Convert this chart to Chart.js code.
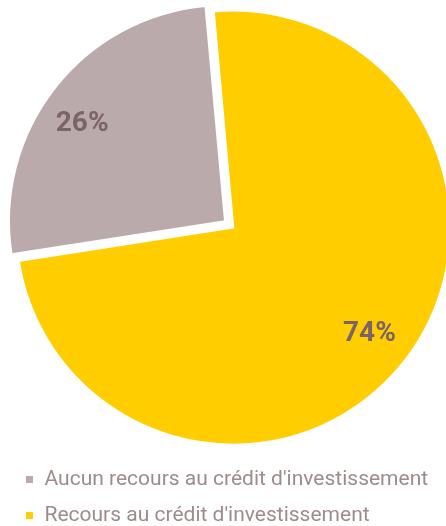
<!DOCTYPE html>
<html>
<head>
<meta charset="utf-8">
<script src="https://cdn.jsdelivr.net/npm/chart.js@4.4.1/dist/chart.umd.min.js"></script>
<style>
  html, body { margin: 0; padding: 0; background: #fff; overflow: hidden; }
  #wrap { width: 455px; height: 526px; position: relative; }
</style>
</head>
<body>
<div id="wrap"><canvas id="chart"></canvas></div>
<script>
// données
const labels = ["Aucun recours au crédit d'investissement", "Recours au crédit d'investissement"];
const values = [26, 74];
const colors = ["#bbaaab", "#ffcd00"];
const sliceOffsets = [38, 4];

// étiquettes de pourcentage dans les parts
const labelAngle = [0.46, 0.5];
const pctLabels = {
  id: "pctLabels",
  afterDatasetsDraw(chart) {
    const ctx = chart.ctx;
    const meta = chart.getDatasetMeta(0);
    ctx.save();
    ctx.font = "bold 28px Roboto";
    ctx.fillStyle = "#7a6468";
    ctx.textAlign = "center";
    ctx.textBaseline = "middle";
    meta.data.forEach((arc, i) => {
      const p = arc.getProps(["x", "y", "startAngle", "endAngle", "outerRadius"], true);
      const mid = p.startAngle + (p.endAngle - p.startAngle) * labelAngle[i];
      const half = (p.startAngle + p.endAngle) / 2;
      const shift = sliceOffsets[i] / 4;
      const r = p.outerRadius * 0.8;
      const cx = p.x + Math.cos(half) * shift;
      const cy = p.y + Math.sin(half) * shift;
      ctx.fillText(values[i] + "%", cx + Math.cos(mid) * r, cy + Math.sin(mid) * r);
    });
    ctx.restore();
  }
};

new Chart(document.getElementById("chart"), {
  type: "pie",
  data: {
    labels: labels,
    datasets: [{
      data: values,
      backgroundColor: colors,
      borderColor: "#ffffff",
      borderWidth: 2,
      offset: sliceOffsets,
      radius: 216,
    }],
  },
  options: {
    responsive: true,
    maintainAspectRatio: false,
    animation: false,
    rotation: -98.8,
    layout: { padding: { top: 0, left: 10, right: 0, bottom: -10 } },
    plugins: {
      tooltip: { enabled: false },
      legend: {
        position: "bottom",
        align: "start",
        labels: {
          boxWidth: 9,
          boxHeight: 9,
          padding: 15,
          color: "#9f8b8c",
          font: { family: "Roboto", size: 21 },
        },
      },
    },
  },
  plugins: [pctLabels],
});
</script>
</body>
</html>
